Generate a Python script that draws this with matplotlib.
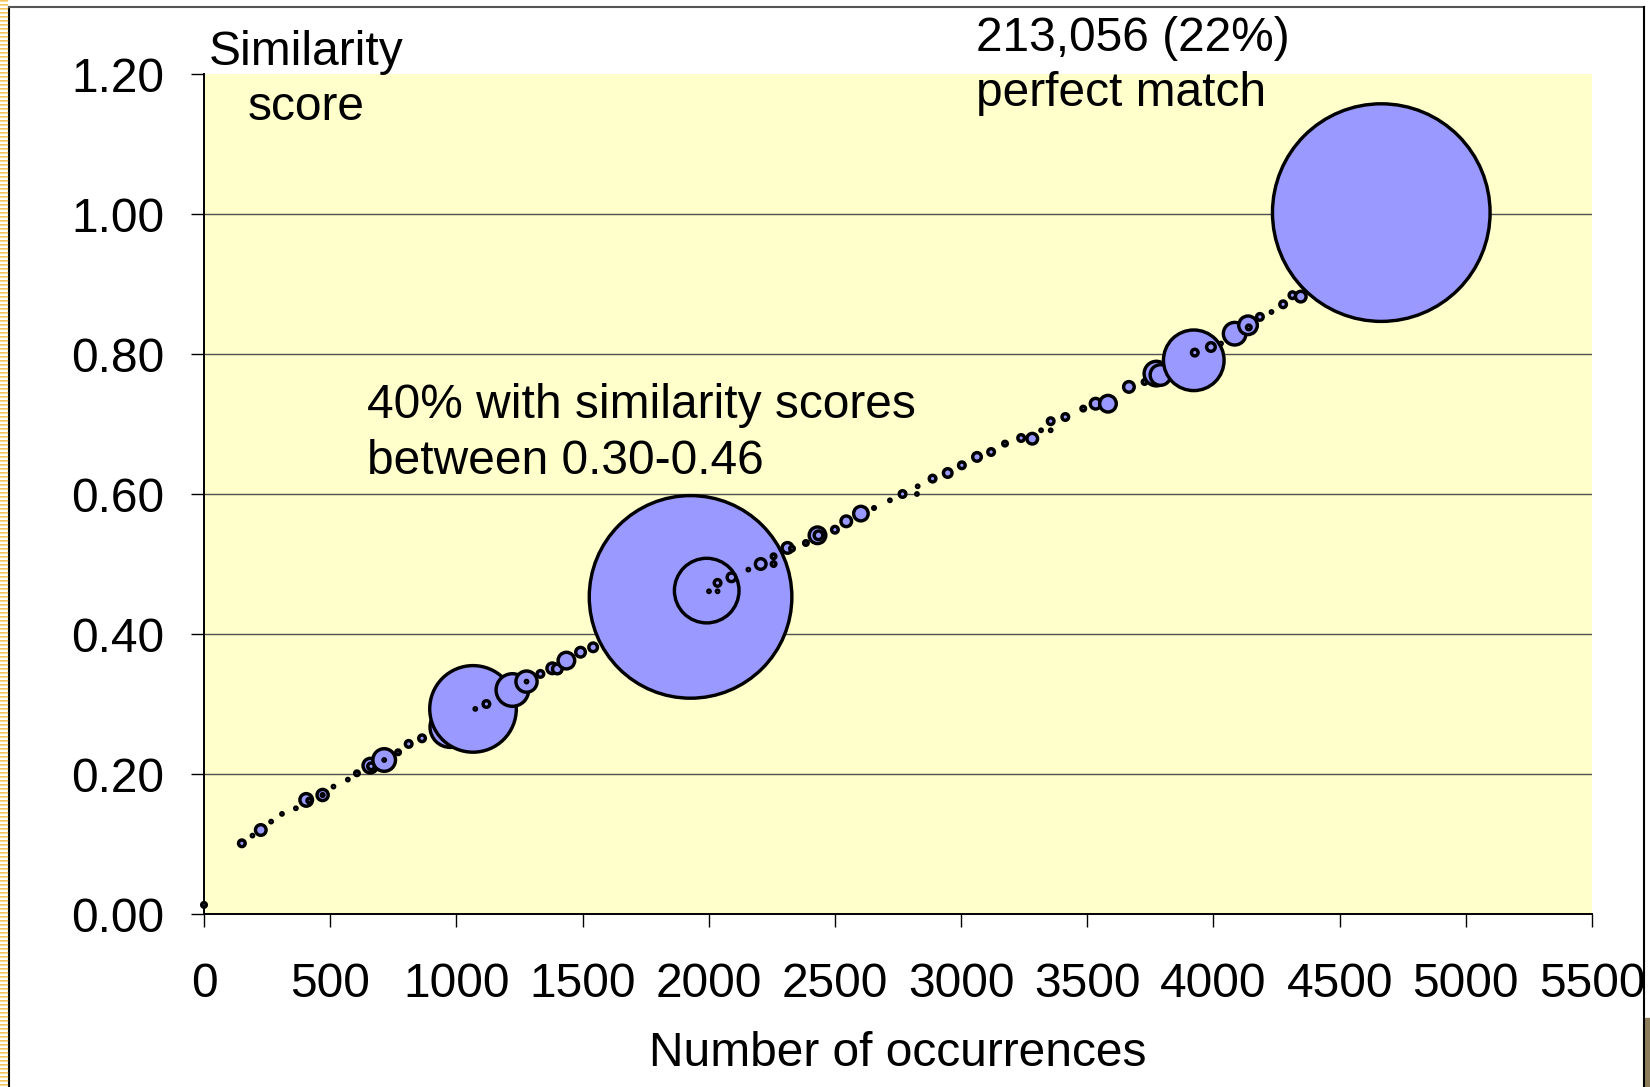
import matplotlib.pyplot as plt
import numpy as np
from matplotlib.lines import Line2D
from matplotlib.patches import Rectangle

plt.rcParams['font.family'] = ['Liberation Sans', 'DejaVu Sans']

# bubble data: number of occurrences, similarity score, bubble size (count)
occurrences = [0, 150, 192, 225, 266, 309, 364, 405, 417, 470, 470, 513, 570, 606,
               659, 662, 714, 714, 769, 811, 864, 976, 1066, 1075, 1119, 1222, 1278,
               1278, 1333, 1380, 1400, 1436, 1492, 1542, 1928, 1992, 2001, 2035, 2035,
               2090, 2157, 2206, 2257, 2257, 2312, 2330, 2385, 2431, 2435, 2500, 2545,
               2603, 2655, 2718, 2768, 2825, 2828, 2887, 2947, 3003, 3063, 3119, 3174,
               3238, 3282, 3317, 3355, 3355, 3413, 3484, 3533, 3582, 3665, 3727, 3774,
               3790, 3922, 3926, 3990, 4030, 4084, 4137, 4140, 4184, 4230, 4276, 4313,
               4346, 4665]
scores = [0.013, 0.101, 0.112, 0.120, 0.132, 0.143, 0.151, 0.163, 0.162, 0.170, 0.170,
          0.182, 0.192, 0.201, 0.212, 0.211, 0.220, 0.220, 0.231, 0.243, 0.251, 0.267,
          0.293, 0.293, 0.300, 0.320, 0.332, 0.332, 0.343, 0.351, 0.350, 0.362, 0.374,
          0.381, 0.453, 0.462, 0.461, 0.461, 0.473, 0.481, 0.492, 0.500, 0.511, 0.500,
          0.523, 0.522, 0.530, 0.541, 0.541, 0.549, 0.561, 0.572, 0.580, 0.591, 0.600,
          0.600, 0.611, 0.622, 0.630, 0.641, 0.653, 0.660, 0.672, 0.680, 0.679, 0.691,
          0.691, 0.704, 0.710, 0.722, 0.729, 0.729, 0.753, 0.760, 0.772, 0.770, 0.791,
          0.802, 0.810, 0.815, 0.829, 0.841, 0.838, 0.853, 0.860, 0.871, 0.884, 0.882,
          1.002]
counts = [280, 440, 70, 860, 110, 70, 70, 1120, 280, 930, 160, 110, 110, 280,
          1410, 440, 2950, 70, 280, 440, 440, 8450, 35330, 110, 440, 5650, 2640,
          70, 440, 860, 740, 1750, 740, 630, 185100, 20170, 70, 70, 440,
          630, 110, 860, 280, 280, 860, 280, 280, 1750, 630, 440, 860,
          1410, 160, 70, 440, 70, 70, 440, 630, 440, 630, 440, 280,
          440, 860, 70, 70, 440, 440, 280, 860, 1750, 860, 280, 3420,
          2510, 17870, 440, 630, 70, 2950, 2110, 280, 440, 110, 440, 440,
          860, 213056]

yticks = [0.0, 0.2, 0.4, 0.6, 0.8, 1.0, 1.2]
xticks = list(range(0, 5501, 500))

W, H = 1650, 1087
fig = plt.figure(figsize=(W / 100, H / 100), dpi=100)
fig.patch.set_facecolor('white')

def fx(px):
    return px / W

def fy(py):
    return 1 - py / H

ax = fig.add_axes([fx(204), fy(914), fx(1592) - fx(204), fy(74) - fy(914)])
ax.set_facecolor('#FFFFCC')

# bubble area proportional to count, largest bubble ~110 px radius
counts_arr = np.array(counts, dtype=float)
r_vis = 110.5 * np.sqrt(counts_arr / counts_arr.max())
lw_px = 3.4
r_marker = np.maximum(r_vis - lw_px / 2, 1.2)
sizes = (2 * r_marker * 0.72) ** 2
ax.scatter(occurrences, scores, s=sizes, c='#9999FF', edgecolors='black',
           linewidths=lw_px * 0.72, zorder=3, clip_on=False)

ax.set_xlim(0, 5500)
ax.set_ylim(0, 1.2)
ax.set_xticks(xticks)
ax.set_yticks(yticks)
ax.set_yticklabels(['%.2f' % v for v in yticks])
for v in yticks[1:-1]:
    ax.axhline(v, color='#505050', lw=1.0, zorder=1)

for s in ['top', 'right']:
    ax.spines[s].set_visible(False)
for s in ['left', 'bottom']:
    ax.spines[s].set_color('black')
    ax.spines[s].set_linewidth(1.4)
ax.tick_params(axis='both', direction='out', length=9.5, width=1.0, color='black',
               labelsize=34.5)
ax.tick_params(axis='x', pad=25)
ax.tick_params(axis='y', pad=19)

fs = 34.5
fig.text(fx(898), fy(1031), 'Number of occurrences', ha='center', va='top', fontsize=fs)
fig.text(fx(306), fy(30), 'Similarity\nscore', ha='center', va='top', fontsize=fs,
         linespacing=1.3)
fig.text(fx(976), fy(16), '213,056 (22%)\nperfect match', ha='left', va='top',
         fontsize=fs, linespacing=1.3)
fig.text(fx(367), fy(383), '40% with similarity scores\nbetween 0.30-0.46', ha='left',
         va='top', fontsize=fs, linespacing=1.3)

# slide frame
fig.add_artist(Line2D([fx(9), fx(9)], [fy(7), 0], color='black', lw=1.5))
fig.add_artist(Line2D([fx(9), fx(1644)], [fy(7), fy(7)], color='#555555', lw=1.5))
fig.add_artist(Line2D([fx(1644), fx(1644)], [fy(7), 0], color='black', lw=1.5))
dotted = Line2D([fx(4), fx(4)], [1, 0], color='#F2C75C', lw=6,
                linestyle=(0, (0.2, 0.28)))
fig.add_artist(dotted)
fig.add_artist(Rectangle((fx(1645), 0), 1 - fx(1645), fy(1018), color='#8C7E5A',
                         transform=fig.transFigure))

fig.savefig('out.png', dpi=100)
